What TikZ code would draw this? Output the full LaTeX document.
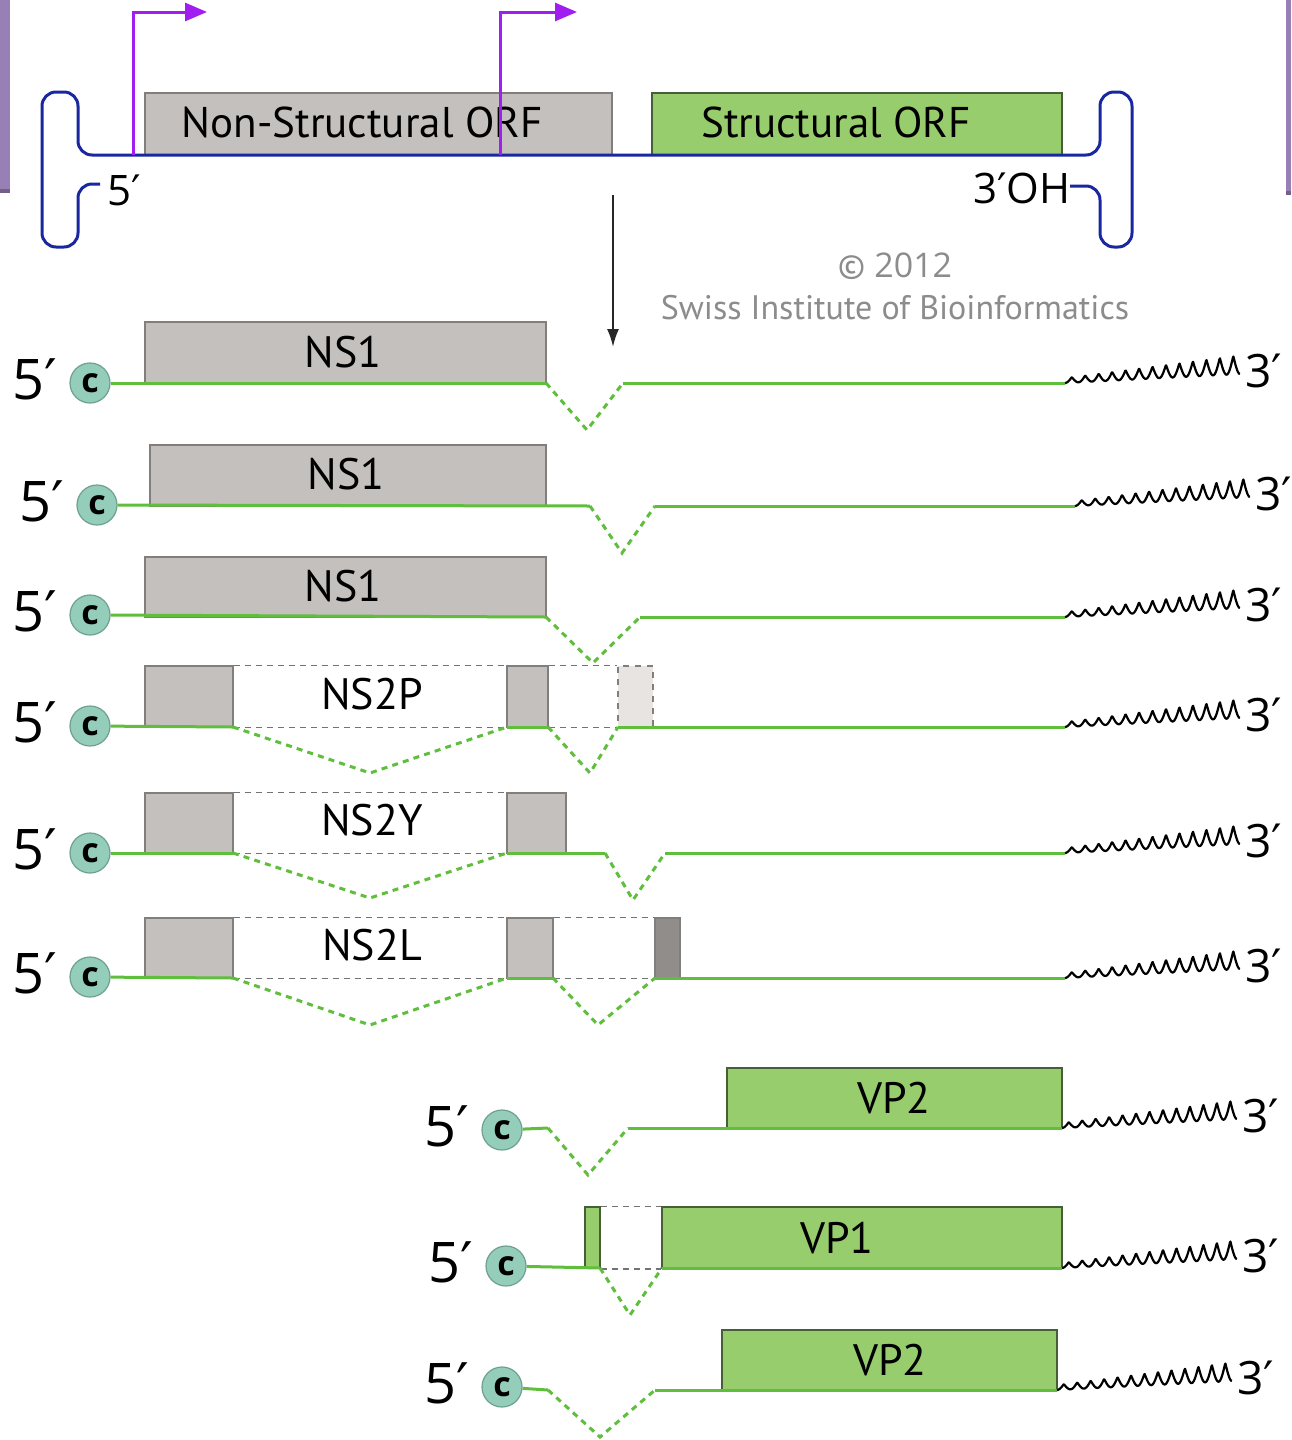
\documentclass[tikz,border=0pt]{standalone}
\usepackage{fontspec}
\setmainfont{PT Sans}
\newfontfamily\primefont{DejaVu Sans}
\newfontfamily\numfont{Open Sans}
\usetikzlibrary{arrows.meta,fit}
\newcommand\pr{{\primefont\char"2032}}
\definecolor{boxgrey}{RGB}{196,192,189}
\definecolor{boxgreyd}{RGB}{130,126,123}
\definecolor{lightbox}{RGB}{232,228,226}
\definecolor{darkbox}{RGB}{145,141,139}
\definecolor{boxgreen}{RGB}{152,205,110}
\definecolor{boxgreend}{RGB}{70,95,55}
\definecolor{rnagreen}{RGB}{95,190,60}
\definecolor{genblue}{RGB}{25,40,160}
\definecolor{promo}{RGB}{160,30,240}
\definecolor{sidepurple}{RGB}{152,128,182}
\definecolor{capteal}{RGB}{148,205,186}
\definecolor{capedge}{RGB}{110,160,145}
\definecolor{copygrey}{RGB}{140,140,140}
\begin{document}
\begin{tikzpicture}[x=0.5pt,y=-0.5pt,
  gbox/.style={draw=boxgreyd,fill=boxgrey,line width=0.6pt,inner sep=0pt},
  lbox/.style={draw=boxgreyd,dashed,fill=lightbox,line width=0.6pt,inner sep=0pt},
  dbox/.style={draw=boxgreyd,fill=darkbox,line width=0.6pt,inner sep=0pt},
  grbox/.style={draw=boxgreend,fill=boxgreen,line width=0.7pt,inner sep=0pt},
  boxlab/.style={font=\fontsize{22}{24}\selectfont,inner sep=0pt},
  toplab/.style={font=\fontsize{21.5}{24}\selectfont,inner sep=0pt},
  gline/.style={draw=rnagreen,line width=1.5pt},
  splice/.style={draw=rnagreen,line width=1.5pt,dash pattern=on 3pt off 2.6pt},
  dline/.style={draw=black!55,line width=0.8pt,dash pattern=on 3pt off 2.5pt},
  genome/.style={draw=genblue,line width=1.5pt,rounded corners=7pt},
  promoter/.style={draw=promo,line width=1.5pt,-{Triangle[length=11pt,width=9pt]}},
  fivep/.style={font=\numfont\fontsize{28}{30}\selectfont,inner sep=0pt},
  threep/.style={font=\numfont\fontsize{23}{26}\selectfont,inner sep=0pt,anchor=west},
  capc/.style={circle,minimum size=20pt,inner sep=0pt,fill=capteal,draw=capedge,line width=0.6pt,font=\numfont\fontsize{17}{17}\selectfont\bfseries},
  capend/.pic={\node[fivep] (-five) at (-55,-4) {5\pr}; \node[capc] (-cap) at (0,0) {c};},
  polya/.pic={\draw[black,line width=1.1pt,line join=round] plot[domain=0:1,samples=300,variable=\t] ({175*\t},{-9*\t-(5+14*\t)*(1-abs(cos(13*180*\t)))});
    \node[threep] (-three) at (180,-12) {3\pr};}
]
\useasboundingbox (0,0) rectangle (1291,1440);
\fill[white] (0,0) rectangle (1291,1440);
% side bars
\fill[sidepurple] (0,0) rectangle (10,193);
\fill[sidepurple!75!black] (0,189) rectangle (10,193);
\fill[sidepurple] (1286,0) rectangle (1291,195);
\fill[sidepurple!75!black] (1286,191) rectangle (1291,195);

% ---------- genome ----------
\node[gbox,fit={(145,93)(612,155)}] (nsorf) {};
\node[toplab] (nsorflab) at (362,122) {Non-Structural ORF};
\node[grbox,fit={(652,93)(1062,155)}] (sorf) {};
\node[toplab] (sorflab) at (836,122) {Structural ORF};
\draw[genome] (100,184) -- (78,184) -- (78,247) -- (42,247) -- (42,92) -- (78,92) -- (78,155)
   -- (1100,155) -- (1100,92) -- (1132,92) -- (1132,247) -- (1100,247) -- (1100,186) -- (1070,186);
\coordinate (p1) at (133,155);
\coordinate (p1e) at (207,12);
\coordinate (p2) at (500,155);
\coordinate (p2e) at (577,12);
\draw[promoter] (p1) |- (p1e);
\draw[promoter] (p2) |- (p2e);
\node[font=\numfont\fontsize{21}{24}\selectfont,inner sep=0pt] (g5) at (124,190) {5\pr};
\node[font=\numfont\fontsize{21}{24}\selectfont,inner sep=0pt] (g3) at (1022,188) {3\pr OH};
\coordinate (arrs) at (613,195);
\coordinate (arre) at (613,347);
\draw[line width=1pt,black!85,-{Latex[length=9pt,width=6pt]}] (arrs) -- (arre);
\node[font=\fontsize{17}{19}\selectfont,text=copygrey] (cpy1) at (895,266) {\textcopyright{} {\numfont 2012}};
\node[font=\fontsize{17}{19}\selectfont,text=copygrey] (cpy2) at (895,308) {Swiss Institute of Bioinformatics};

% ---------- row 1: NS1 ----------
\node[gbox,fit={(145,322)(546,383)}] (b1) {};
\node[boxlab] (l1) at (343,352) {NS1};
\pic (r1) at (90,383) {capend};
\coordinate (r1a) at (546,383); \coordinate (r1v) at (587,430); \coordinate (r1b) at (623,383); \coordinate (r1t) at (1065,383);
\draw[gline] (r1-cap) -- (r1a);
\draw[splice] (r1a) -- (r1v) -- (r1b);
\draw[gline] (r1b) -- (r1t);
\pic (t1) at (r1t) {polya};

% ---------- row 2: NS1 ----------
\node[gbox,fit={(150,445)(546,506)}] (b2) {};
\node[boxlab] (l2) at (346,474) {NS1};
\pic (r2) at (97,505) {capend};
\coordinate (r2a) at (590,506); \coordinate (r2v) at (622,553); \coordinate (r2b) at (655,506); \coordinate (r2t) at (1075,506);
\draw[gline] (r2-cap) -- (r2a);
\draw[splice] (r2a) -- (r2v) -- (r2b);
\draw[gline] (r2b) -- (r2t);
\pic (t2) at (r2t) {polya};

% ---------- row 3: NS1 ----------
\node[gbox,fit={(145,557)(546,617)}] (b3) {};
\node[boxlab] (l3) at (343,586) {NS1};
\pic (r3) at (90,615) {capend};
\coordinate (r3a) at (546,617); \coordinate (r3v) at (593,663); \coordinate (r3b) at (640,617); \coordinate (r3t) at (1065,617);
\draw[gline] (r3-cap) -- (r3a);
\draw[splice] (r3a) -- (r3v) -- (r3b);
\draw[gline] (r3b) -- (r3t);
\pic (t3) at (r3t) {polya};

% ---------- row 4: NS2P ----------
\node[gbox,fit={(145,666)(233,727)}] (b4a) {};
\node[gbox,fit={(507,666)(548,727)}] (b4b) {};
\node[lbox,fit={(618,666)(653,727)}] (b4c) {};
\draw[dline] (b4a.north east) -- (b4b.north west);
\draw[dline] (b4b.north east) -- (b4c.north west);
\draw[dline] (b4a.south east) -- (b4b.south west);
\draw[dline] (b4b.south east) -- (b4c.south west);
\node[boxlab] (l4) at (372,694) {NS2P};
\pic (r4) at (90,726) {capend};
\coordinate (r4a) at (233,727); \coordinate (r4v) at (370,773); \coordinate (r4b) at (507,727);
\coordinate (r4c) at (548,727); \coordinate (r4w) at (590,773); \coordinate (r4d) at (618,727); \coordinate (r4t) at (1065,727);
\draw[gline] (r4-cap) -- (r4a);
\draw[splice] (r4a) -- (r4v) -- (r4b);
\draw[gline] (r4b) -- (r4c);
\draw[splice] (r4c) -- (r4w) -- (r4d);
\draw[gline] (r4d) -- (r4t);
\pic (t4) at (r4t) {polya};

% ---------- row 5: NS2Y ----------
\node[gbox,fit={(145,793)(233,853)}] (b5a) {};
\node[gbox,fit={(507,793)(566,853)}] (b5b) {};
\draw[dline] (b5a.north east) -- (b5b.north west);
\draw[dline] (b5a.south east) -- (b5b.south west);
\node[boxlab] (l5) at (372,820) {NS2Y};
\pic (r5) at (90,853) {capend};
\coordinate (r5a) at (233,853); \coordinate (r5v) at (370,898); \coordinate (r5b) at (507,853);
\coordinate (r5c) at (605,853); \coordinate (r5w) at (633,900); \coordinate (r5d) at (665,853); \coordinate (r5t) at (1065,853);
\draw[gline] (r5-cap) -- (r5a);
\draw[splice] (r5a) -- (r5v) -- (r5b);
\draw[gline] (r5b) -- (r5c);
\draw[splice] (r5c) -- (r5w) -- (r5d);
\draw[gline] (r5d) -- (r5t);
\pic (t5) at (r5t) {polya};

% ---------- row 6: NS2L ----------
\node[gbox,fit={(145,918)(233,978)}] (b6a) {};
\node[gbox,fit={(507,918)(553,978)}] (b6b) {};
\node[dbox,fit={(655,918)(680,978)}] (b6c) {};
\draw[dline] (b6a.north east) -- (b6b.north west);
\draw[dline] (b6b.north east) -- (b6c.north west);
\draw[dline] (b6a.south east) -- (b6b.south west);
\draw[dline] (b6b.south east) -- (b6c.south west);
\node[boxlab] (l6) at (372,945) {NS2L};
\pic (r6) at (90,977) {capend};
\coordinate (r6a) at (233,978); \coordinate (r6v) at (370,1025); \coordinate (r6b) at (507,978);
\coordinate (r6c) at (553,978); \coordinate (r6w) at (598,1025); \coordinate (r6d) at (655,978); \coordinate (r6t) at (1065,978);
\draw[gline] (r6-cap) -- (r6a);
\draw[splice] (r6a) -- (r6v) -- (r6b);
\draw[gline] (r6b) -- (r6c);
\draw[splice] (r6c) -- (r6w) -- (r6d);
\draw[gline] (r6d) -- (r6t);
\pic (t6) at (r6t) {polya};

% ---------- row 7: VP2 ----------
\node[grbox,fit={(727,1068)(1062,1128)}] (b7) {};
\node[boxlab] (l7) at (894,1098) {VP2};
\pic (r7) at (502,1130) {capend};
\coordinate (r7a) at (548,1128); \coordinate (r7v) at (588,1175); \coordinate (r7b) at (628,1128); \coordinate (r7t) at (1062,1128);
\draw[gline] (r7-cap) -- (r7a);
\draw[splice] (r7a) -- (r7v) -- (r7b);
\draw[gline] (r7b) -- (r7t);
\pic (t7) at (r7t) {polya};

% ---------- row 8: VP1 ----------
\node[grbox,fit={(585,1207)(600,1268)}] (b8a) {};
\node[grbox,fit={(662,1207)(1062,1268)}] (b8b) {};
\draw[dline] (b8a.north east) -- (b8b.north west);
\draw[dline] (b8a.south east) -- (b8b.south west);
\node[boxlab] (l8) at (837,1238) {VP1};
\pic (r8) at (506,1266) {capend};
\coordinate (r8a) at (600,1268); \coordinate (r8v) at (630,1315); \coordinate (r8b) at (662,1268); \coordinate (r8t) at (1062,1268);
\draw[gline] (r8-cap) -- (r8a);
\draw[splice] (r8a) -- (r8v) -- (r8b);
\draw[gline] (r8b) -- (r8t);
\pic (t8) at (r8t) {polya};

% ---------- row 9: VP2 ----------
\node[grbox,fit={(722,1330)(1057,1390)}] (b9) {};
\node[boxlab] (l9) at (890,1360) {VP2};
\pic (r9) at (502,1387) {capend};
\coordinate (r9a) at (548,1390); \coordinate (r9v) at (600,1437); \coordinate (r9b) at (655,1390); \coordinate (r9t) at (1057,1390);
\draw[gline] (r9-cap) -- (r9a);
\draw[splice] (r9a) -- (r9v) -- (r9b);
\draw[gline] (r9b) -- (r9t);
\pic (t9) at (r9t) {polya};
\end{tikzpicture}
\end{document}
